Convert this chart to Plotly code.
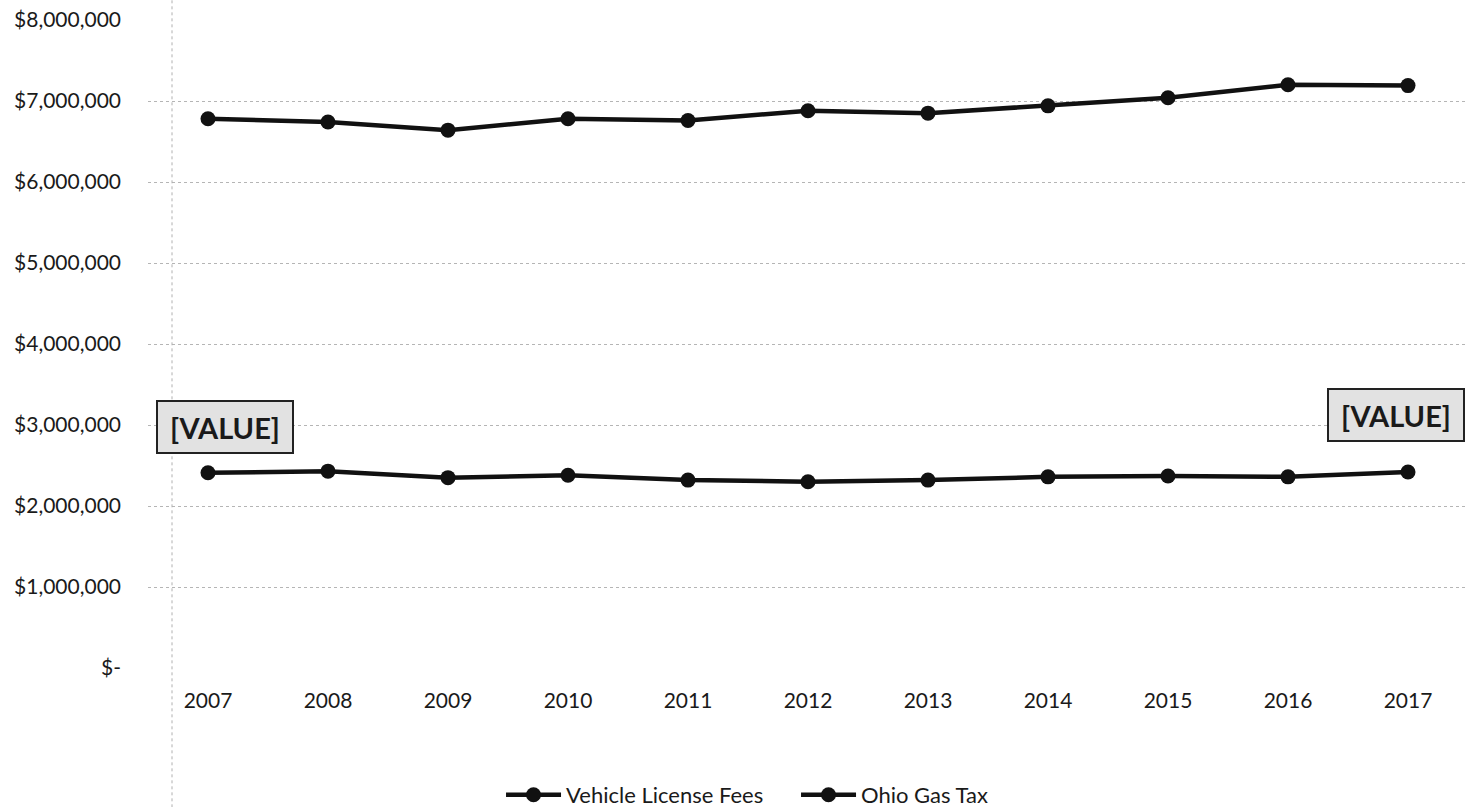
import plotly.graph_objects as go

years = ["2007", "2008", "2009", "2010", "2011", "2012", "2013", "2014", "2015", "2016", "2017"]
vehicle_license_fees = [2410000, 2430000, 2350000, 2380000, 2320000, 2300000, 2320000, 2360000, 2370000, 2360000, 2420000]
ohio_gas_tax = [6780000, 6740000, 6640000, 6780000, 6760000, 6880000, 6850000, 6940000, 7040000, 7200000, 7190000]
y_tick_vals = [0, 1000000, 2000000, 3000000, 4000000, 5000000, 6000000, 7000000, 8000000]
y_tick_text = ["$-", "$1,000,000", "$2,000,000", "$3,000,000", "$4,000,000",
               "$5,000,000", "$6,000,000", "$7,000,000", "$8,000,000"]
label_text = "[VALUE]"

FONT = "Lato, 'Open Sans', sans-serif"

fig = go.Figure()
fig.add_trace(go.Scatter(
    x=years, y=vehicle_license_fees, name="Vehicle License Fees",
    mode="lines+markers",
    line=dict(color="#111111", width=4.5),
    marker=dict(color="#111111", size=15),
))
fig.add_trace(go.Scatter(
    x=years, y=ohio_gas_tax, name="Ohio Gas Tax",
    mode="lines+markers",
    line=dict(color="#111111", width=4.5),
    marker=dict(color="#111111", size=15),
))

# data labels on first and last points of the lower series
for idx, xs, ys in [(0, 17, 46), (len(years) - 1, -12, 57)]:
    fig.add_annotation(
        x=idx, y=vehicle_license_fees[idx], xref="x", yref="y",
        text="<b>" + label_text + "</b>", showarrow=False,
        xshift=xs, yshift=ys,
        font=dict(family=FONT, size=29, color="#1a1a1a"),
        bgcolor="#e2e2e2", bordercolor="#222222", borderwidth=2,
        width=130, height=46, borderpad=2,
    )

# faint dotted vertical line (scan artefact of the original)
fig.add_shape(type="line", xref="x", yref="paper",
              x0=-0.3, x1=-0.3, y0=-0.215, y1=1.031,
              line=dict(color="#b0b0b0", width=1, dash="dot"))

fig.update_layout(
    width=1465, height=807,
    margin=dict(l=148, r=0, t=20, b=139),
    paper_bgcolor="white", plot_bgcolor="white",
    font=dict(family=FONT, size=21, color="#1a1a1a"),
    showlegend=True,
    legend=dict(orientation="h", xref="container", yref="container",
                x=0.342, xanchor="left", y=0.015, yanchor="middle",
                font=dict(size=22), itemwidth=55, tracegroupgap=0,
                entrywidth=225, entrywidthmode="pixels"),
)
fig.update_xaxes(
    type="category", range=[-0.5, 10.475],
    showgrid=False, showline=False, zeroline=False,
    ticks="", ticklabelstandoff=18,
    tickfont=dict(size=21),
)
fig.update_yaxes(
    range=[0, 8000000], tickvals=y_tick_vals, ticktext=y_tick_text,
    showgrid=True, gridcolor="#b5b5b5", griddash="dot", gridwidth=1,
    showline=False, zeroline=False, ticks="", ticklabelstandoff=26,
    tickfont=dict(size=21),
)

fig.write_html("out.html")
